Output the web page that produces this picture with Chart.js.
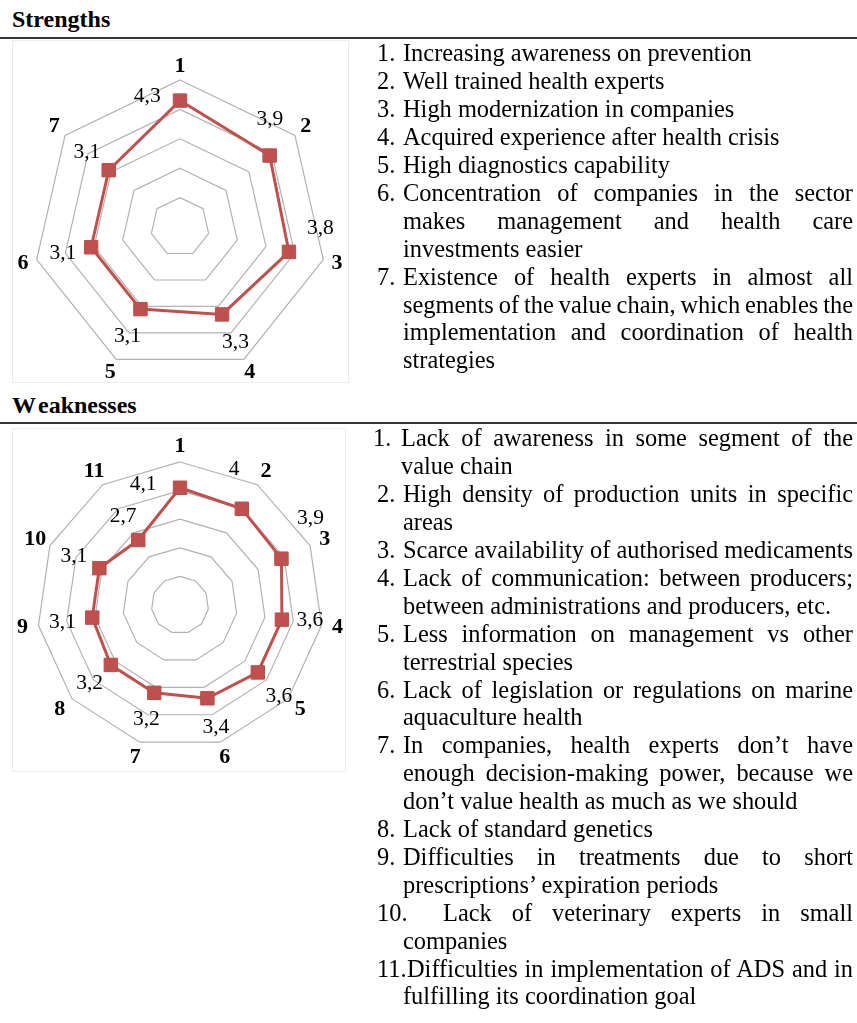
<!DOCTYPE html>
<html>
<head>
<meta charset="utf-8">
<script src="https://cdn.jsdelivr.net/npm/chart.js@4.4.1/dist/chart.umd.min.js"></script>
<style>
  body { margin: 0; background: #fff; }
  #page { position: relative; width: 857px; height: 1023px; overflow: hidden; font-family: "Liberation Serif", "Times New Roman", serif; color: #000; }
  .title { position: absolute; left: 12px; font-size: 24px; font-weight: bold; line-height: 28px; }
  .rule { position: absolute; left: 0; width: 857px; height: 1.5px; background: #333; }
  .box { position: absolute; border: 1px solid #ececec; box-sizing: border-box; }
  .holder { position: absolute; }
  .ln { position: absolute; left: 0; width: 857px; height: 28px; font-size: 24.4px; line-height: 27.9px; white-space: nowrap; }
  .ln span { position: absolute; top: 0; }
</style>
</head>
<body>
<div id="page">
  <div class="title" style="top:5px;">Strengths</div>
  <div class="rule" style="top:37px;"></div>
  <div class="box" style="left:12px; top:40px; width:337px; height:343px;"></div>
  <div class="holder" style="left:12px; top:40px;"><canvas id="strengths-chart" width="337" height="343"></canvas></div>

  <div class="title" style="top:391px;"><span style="margin-right:2px;">W</span>eaknesses</div>
  <div class="rule" style="top:422px;"></div>
  <div class="box" style="left:12px; top:428px; width:334px; height:344px;"></div>
  <div class="holder" style="left:12px; top:428px;"><canvas id="weak-chart" width="334" height="344"></canvas></div>

  <div id="strength-list"></div>
  <div id="weak-list"></div>
</div>

<script>
'use strict';

// chart data
let strengthAxes = ['1', '2', '3', '4', '5', '6', '7'];
let strengthScores = [4.3, 3.9, 3.8, 3.3, 3.1, 3.1, 3.1];

let weakAxes = ['1', '2', '3', '4', '5', '6', '7', '8', '9', '10', '11'];
let weakScores = [4.1, 4, 3.9, 3.6, 3.6, 3.4, 3.2, 3.2, 3.1, 3.1, 2.7];

let scaleMin = 0;
let scaleMax = 5;
let scaleStep = 1;

// list text, one entry per printed line: [number, text, justified, textX, numX]
let strengthLines = [
  ['1.', 'Increasing awareness on prevention'],
  ['2.', 'Well trained health experts'],
  ['3.', 'High modernization in companies'],
  ['4.', 'Acquired experience after health crisis'],
  ['5.', 'High diagnostics capability'],
  ['6.', 'Concentration of companies in the sector', true],
  ['', 'makes management and health care', true],
  ['', 'investments easier'],
  ['7.', 'Existence of health experts in almost all', true],
  ['', 'segments of the value chain, which enables the', true],
  ['', 'implementation and coordination of health', true],
  ['', 'strategies']
];

let weakLines = [
  ['1.', 'Lack of awareness in some segment of the', true, 401, 373],
  ['', 'value chain', false, 401],
  ['2.', 'High density of production units in specific', true],
  ['', 'areas'],
  ['3.', 'Scarce availability of authorised medicaments', true],
  ['4.', 'Lack of communication: between producers;', true],
  ['', 'between administrations and producers, etc.'],
  ['5.', 'Less information on management vs other', true],
  ['', 'terrestrial species'],
  ['6.', 'Lack of legislation or regulations on marine', true],
  ['', 'aquaculture health'],
  ['7.', 'In companies, health experts don\u2019t have', true],
  ['', 'enough decision-making power, because we', true],
  ['', 'don\u2019t value health as much as we should'],
  ['8.', 'Lack of standard genetics'],
  ['9.', 'Difficulties in treatments due to short', true],
  ['', 'prescriptions\u2019 expiration periods'],
  ['10.', 'Lack of veterinary experts in small', true, 443],
  ['', 'companies'],
  ['11.', 'Difficulties in implementation of ADS and in', true, 407],
  ['', 'fulfilling its coordination goal']
];

//LIST RENDERING
const LINE_H = 27.9;
const RIGHT_EDGE = 853;

function renderList(id, lines, top) {
  let holder = document.getElementById(id);
  for (let i = 0; i < lines.length; i++) {
    let [num, text, justify, textX, numX] = lines[i];
    textX = textX || 403;
    numX = numX || 377;
    let row = document.createElement('div');
    row.className = 'ln';
    row.style.top = (top + i * LINE_H) + 'px';
    if (num) {
      let n = document.createElement('span');
      n.textContent = num;
      n.style.left = numX + 'px';
      row.appendChild(n);
    }
    let t = document.createElement('span');
    t.textContent = text;
    t.style.left = textX + 'px';
    row.appendChild(t);
    holder.appendChild(row);
    // stretch or squeeze the spaces so the line ends at the right margin
    if (justify) {
      let spaces = (text.match(/ /g) || []).length;
      let natural = t.getBoundingClientRect().width;
      if (spaces > 0) {
        t.style.wordSpacing = ((RIGHT_EDGE - textX - natural) / spaces) + 'px';
      }
    }
  }
}

renderList('strength-list', strengthLines, 39.4);
renderList('weak-list', weakLines, 424.4);

//CHARTS
// number labels round the polygon and value labels next to each marker
let radarText = {
  id: 'radarText',
  afterDatasetsDraw(chart, args, opts) {
    let ctx = chart.ctx;
    let scale = chart.scales.r;
    let values = chart.data.datasets[0].data;
    ctx.save();
    ctx.fillStyle = '#000';
    ctx.textAlign = 'center';
    ctx.textBaseline = 'middle';
    ctx.font = 'bold 22px "Liberation Serif"';
    chart.data.labels.forEach(function (lab, i) {
      let p = scale.getPointPosition(i, scale.drawingArea + opts.axisGap);
      ctx.fillText(lab, p.x, p.y);
    });
    ctx.font = '21.5px "Liberation Serif"';
    values.forEach(function (v, i) {
      let p = scale.getPointPositionForValue(i, v);
      let a = p.angle + opts.turn[i] * Math.PI / 180;
      let d = opts.gap[i];
      ctx.fillText(String(v).replace('.', ','), p.x + Math.cos(a) * d, p.y + Math.sin(a) * d);
    });
    ctx.restore();
  }
};

function makeRadar(canvasId, axes, scores, pad, textOpts) {
  let ctx = document.getElementById(canvasId).getContext('2d');
  return new Chart(ctx, {
    type: 'radar',
    data: {
      labels: axes,
      datasets: [{
        data: scores,
        borderColor: '#C0504D',
        borderWidth: 3,
        fill: false,
        backgroundColor: 'rgba(0,0,0,0)',
        pointStyle: 'rect',
        pointRadius: 9.5,
        pointBackgroundColor: '#C0504D',
        pointBorderColor: '#B5504D',
        pointBorderWidth: 1
      }]
    },
    options: {
      responsive: false,
      animation: false,
      devicePixelRatio: 1,
      layout: { padding: pad },
      plugins: {
        legend: { display: false },
        tooltip: { enabled: false },
        radarText: textOpts
      },
      scales: {
        r: {
          min: scaleMin,
          max: scaleMax,
          ticks: { stepSize: scaleStep, display: false },
          grid: { color: '#B2B2B2', lineWidth: 1.2 },
          angleLines: { display: false },
          pointLabels: { display: false }
        }
      }
    },
    plugins: [radarText]
  });
}

makeRadar('strengths-chart', strengthAxes, strengthScores,
  { left: 21, top: 40, right: 22, bottom: 9 },
  { axisGap: 14, turn: [-83, -51, -49, 0, 0, 0, 0], gap: [33, 36, 39, 31, 30, 29, 28] });

makeRadar('weak-chart', weakAxes, weakScores,
  { left: 25, top: 34, right: 23, bottom: 24 },
  { axisGap: 16, turn: [-85, -44, -30, -7, 8, 0, 0, 0, 0, 0, 0], gap: [37, 40, 50, 28, 32, 30, 28, 28, 30, 28, 28] });
</script>
</body>
</html>
